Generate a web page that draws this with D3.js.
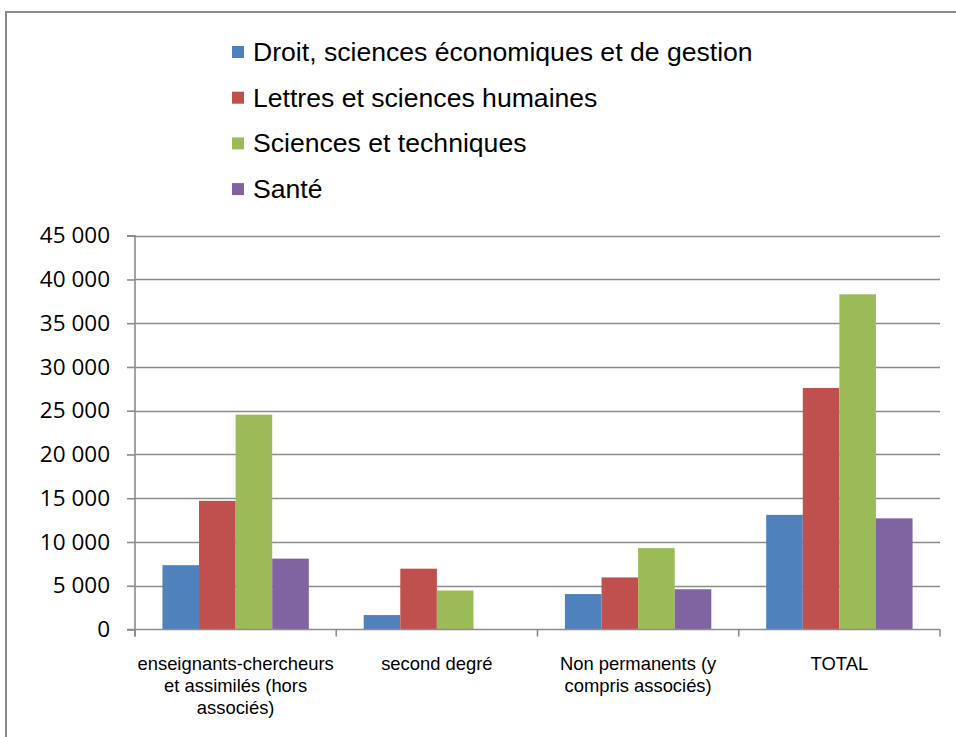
<!DOCTYPE html>
<html><head><meta charset="utf-8">
<script src="https://cdn.jsdelivr.net/npm/d3@7"></script>
<style>html,body{margin:0;padding:0;background:#fff;}</style>
</head><body>
<svg id="chart" width="956" height="737"></svg>
<script>
const categories = [
  ["enseignants-chercheurs", "et assimilés (hors", "associés)"],
  ["second degré"],
  ["Non permanents (y", "compris associés)"],
  ["TOTAL"]
];
const categoryKeys = ["enseignants-chercheurs et assimilés (hors associés)", "second degré", "Non permanents (y compris associés)", "TOTAL"];
const seriesNames = ["Droit, sciences économiques et de gestion", "Lettres et sciences humaines", "Sciences et techniques", "Santé"];
const droit = [7350, 1650, 4050, 13100];
const lettres = [14700, 6950, 5950, 27600];
const sciences = [24550, 4450, 9300, 38300];
const sante = [8100, 0, 4600, 12700];
const yTicks = [0, 5000, 10000, 15000, 20000, 25000, 30000, 35000, 40000, 45000];
const colors = ["#4F81BD", "#C0504D", "#9BBB59", "#8064A2"];

(function () {
const seriesValues = [droit, lettres, sciences, sante];
const svg = d3.select("#chart");
svg.append("rect").attr("width", 956).attr("height", 737).attr("fill", "#fff");
// outer frame
svg.append("rect").attr("x", 6).attr("y", 12).attr("width", 1000).attr("height", 800)
  .attr("fill", "none").attr("stroke", "#8a8a8a").attr("stroke-width", 2);

const pLeft = 135, pRight = 940, pTop = 235.7, pBottom = 629.5;
const y = d3.scaleLinear().domain([0, 45000]).range([pBottom, pTop]);
const x = d3.scaleBand().domain(categoryKeys).range([pLeft, pRight]).paddingInner(0).paddingOuter(0);
const xs = d3.scaleBand().domain(seriesNames).range([0, x.bandwidth()]).paddingInner(0).paddingOuter(0.75);

const loc = d3.formatLocale({decimal: ",", thousands: " ", grouping: [3], currency: ["", " €"]});
const fmt = loc.format(",d");

// gridlines
svg.append("g").selectAll("line").data(yTicks.filter(d => d > 0)).join("line")
  .attr("x1", pLeft).attr("x2", pRight)
  .attr("y1", d => Math.round(y(d)) + 0.5).attr("y2", d => Math.round(y(d)) + 0.5)
  .attr("stroke", "#8c8c8c").attr("stroke-width", 1.6);

// bars
const gBars = svg.append("g");
seriesValues.forEach((vals, si) => {
  gBars.append("g").selectAll("rect").data(vals.map((v, ci) => ({v, c: categoryKeys[ci]}))).join("rect")
    .attr("x", d => x(d.c) + xs(seriesNames[si]))
    .attr("width", xs.bandwidth())
    .attr("y", d => y(d.v))
    .attr("height", d => y(0) - y(d.v))
    .attr("fill", colors[si]);
});

// y axis
const yAxis = d3.axisLeft(y).tickValues(yTicks).tickSize(8).tickPadding(17).tickFormat(fmt);
const gy = svg.append("g").attr("transform", `translate(${pLeft},0)`).call(yAxis);
gy.selectAll("line").attr("stroke", "#8c8c8c").attr("stroke-width", 1.6);
gy.select(".domain").attr("stroke", "#8c8c8c").attr("stroke-width", 1.6).attr("d", `M-8,${pTop}H0V${pBottom+7}`);
gy.selectAll("text").attr("font-family", "'Open Sans', sans-serif").attr("font-size", 22.5).attr("fill", "#000");

// x axis
const gx = svg.append("g");
gx.append("line").attr("x1", pLeft - 8).attr("x2", pRight).attr("y1", pBottom).attr("y2", pBottom)
  .attr("stroke", "#8c8c8c").attr("stroke-width", 1.6);
const bounds = categoryKeys.map(c => x(c)).concat([x.range()[1]]);
gx.selectAll("line.tick").data(bounds).join("line").attr("class", "tick")
  .attr("x1", d => d).attr("x2", d => d).attr("y1", pBottom).attr("y2", pBottom + 7)
  .attr("stroke", "#8c8c8c").attr("stroke-width", 1.6);
categories.forEach((lines, i) => {
  const t = gx.append("text").attr("text-anchor", "middle")
    .attr("font-family", "'Liberation Sans', Arial, sans-serif").attr("font-size", 18.4).attr("fill", "#000");
  lines.forEach((ln, j) => {
    t.append("tspan").attr("x", x(categoryKeys[i]) + x.bandwidth() / 2).attr("y", 670 + j * 22).text(ln);
  });
});

// legend
const lg = svg.append("g");
seriesNames.forEach((n, i) => {
  const cy = 52 + i * 45.7;
  lg.append("rect").attr("x", 232).attr("y", cy - 6).attr("width", 12).attr("height", 12).attr("fill", colors[i]);
  lg.append("text").attr("x", 253).attr("y", cy + 9).attr("font-family", "'Liberation Sans', Arial, sans-serif")
    .attr("font-size", 26.6).attr("fill", "#000").text(n);
});
})();
</script>
</body></html>
